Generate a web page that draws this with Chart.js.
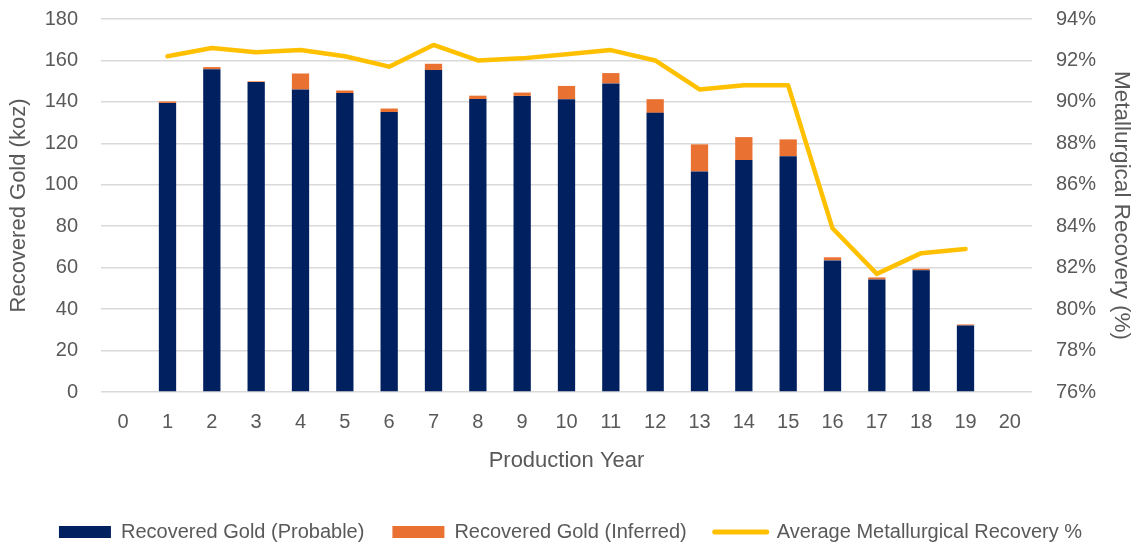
<!DOCTYPE html>
<html>
<head>
<meta charset="utf-8">
<script src="https://cdn.jsdelivr.net/npm/chart.js@4.4.1/dist/chart.umd.min.js"></script>
<style>
  html, body { margin: 0; padding: 0; background: #ffffff; }
  #wrap { width: 1141px; height: 545px; position: relative; }
</style>
</head>
<body>
<div id="wrap"><canvas id="c"></canvas></div>
<script>
const years = ['0','1','2','3','4','5','6','7','8','9','10','11','12','13','14','15','16','17','18','19','20'];
const probable = [null, 139.5, 155.8, 149.6, 146.0, 144.3, 135.1, 155.4, 141.4, 142.9, 141.3, 148.9, 134.7, 106.4, 111.9, 113.8, 63.5, 54.3, 58.7, 32.1, null];
const inferred = [null, 0.7, 1.0, 0.3, 7.7, 1.2, 1.7, 3.0, 1.6, 1.6, 6.4, 5.0, 6.6, 13.1, 11.1, 8.1, 1.5, 1.0, 0.8, 0.5, null];
const recovery = [null, 0.922, 0.926, 0.924, 0.925, 0.922, 0.917, 0.9275, 0.920, 0.921, 0.923, 0.925, 0.920, 0.906, 0.908, 0.908, 0.839, 0.817, 0.827, 0.829, null];

const FONT = "'Liberation Sans', Arial, sans-serif";
const TXT = '#595959';

new Chart(document.getElementById('c'), {
  data: {
    labels: years,
    datasets: [
      {
        type: 'line',
        label: 'Average Metallurgical Recovery %',
        data: recovery,
        yAxisID: 'y1',
        borderColor: '#FFC000',
        backgroundColor: '#FFC000',
        borderWidth: 4.5,
        pointRadius: 0,
        tension: 0,
        borderCapStyle: 'round',
        borderJoinStyle: 'round',
        order: 0
      },
      {
        type: 'bar',
        label: 'Recovered Gold (Probable)',
        data: probable,
        yAxisID: 'y',
        backgroundColor: '#002060',
        borderWidth: 0,
        barPercentage: 0.39,
        categoryPercentage: 1.0,
        order: 1
      },
      {
        type: 'bar',
        label: 'Recovered Gold (Inferred)',
        data: inferred,
        yAxisID: 'y',
        backgroundColor: '#E97132',
        borderWidth: 0,
        barPercentage: 0.39,
        categoryPercentage: 1.0,
        order: 1
      }
    ]
  },
  options: {
    responsive: true,
    maintainAspectRatio: false,
    animation: false,
    layout: { padding: { left: 0, right: 0, top: 0, bottom: -7 } },
    plugins: {
      tooltip: { enabled: false },
      legend: {
        position: 'bottom',
        align: 'center',
        labels: {
          font: { family: FONT, size: 20 },
          color: TXT,
          padding: 28,
          usePointStyle: true,
          pointStyleWidth: 52,
          boxWidth: 52,
          boxHeight: 12,
          generateLabels: function(chart) {
            const order = [1, 2, 0];
            return order.map(i => {
              const ds = chart.data.datasets[i];
              const isLine = ds.type === 'line';
              return {
                text: ds.label,
                datasetIndex: i,
                fillStyle: isLine ? '#FFC000' : ds.backgroundColor,
                strokeStyle: isLine ? '#FFC000' : ds.backgroundColor,
                lineWidth: isLine ? 5 : 0,
                lineCap: 'round',
                pointStyle: isLine ? 'line' : 'rect',
                fontColor: TXT,
                hidden: false
              };
            });
          }
        }
      }
    },
    scales: {
      x: {
        stacked: true,
        grid: { display: false, drawTicks: false },
        border: { display: false },
        ticks: { font: { family: FONT, size: 20 }, color: TXT, padding: 18, maxRotation: 0, autoSkip: false },
        title: { display: true, text: 'Production Year', font: { family: FONT, size: 22 }, color: TXT, padding: { top: 20, bottom: 20 } },
        afterFit: function(s) { s.height = 102; }
      },
      y: {
        stacked: true,
        position: 'left',
        min: 0, max: 180,
        grid: { color: '#d9d9d9', lineWidth: 1.5, drawTicks: true, tickLength: 16, tickColor: 'rgba(0,0,0,0)' },
        border: { display: false },
        ticks: { stepSize: 20, font: { family: FONT, size: 20 }, color: TXT, padding: 7 },
        title: { display: true, text: 'Recovered Gold (koz)', font: { family: FONT, size: 22 }, color: TXT, padding: { top: 6, bottom: 4 } },
        afterFit: function(s) { s.width = 101; }
      },
      y1: {
        position: 'right',
        min: 0.76, max: 0.94,
        grid: { display: true, drawOnChartArea: false, color: 'rgba(0,0,0,0)', drawTicks: true, tickLength: 17, tickColor: 'rgba(0,0,0,0)' },
        border: { display: false },
        ticks: {
          stepSize: 0.02,
          font: { family: FONT, size: 20 }, color: TXT, padding: 7,
          callback: v => Math.round(v * 100) + '%'
        },
        title: { display: true, text: 'Metallurgical Recovery (%)', font: { family: FONT, size: 22.5 }, color: TXT, padding: { top: 6, bottom: 4 } },
        afterFit: function(s) { s.width = 109; }
      }
    }
  }
});
</script>
</body>
</html>
